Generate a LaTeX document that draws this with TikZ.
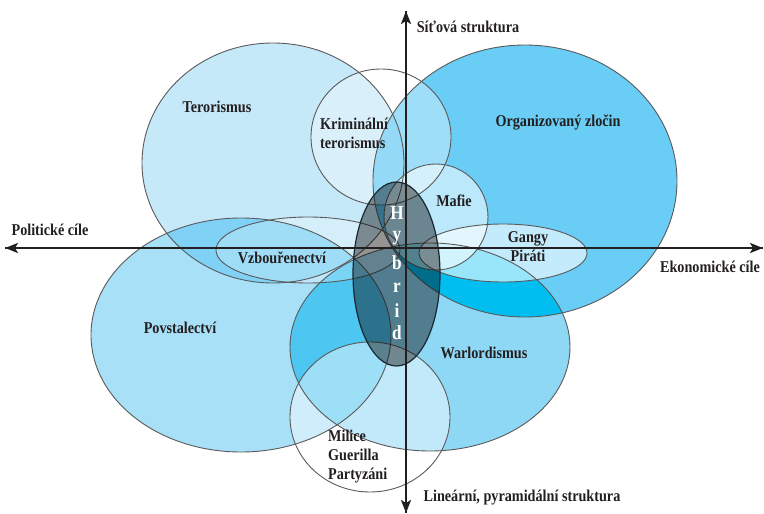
\documentclass[tikz,border=0pt]{standalone}
\usepackage{fontspec}
\setmainfont{Liberation Serif}[FakeStretch=0.86]
\usetikzlibrary{arrows.meta}
\definecolor{txt}{HTML}{231F20}
\definecolor{cT}{HTML}{C6E9F9}
\definecolor{cP}{HTML}{A8E0F8}
\definecolor{cO}{HTML}{6ACDF5}
\definecolor{cW}{HTML}{8FD8F5}
\definecolor{cTP}{HTML}{7FD2F5}
\definecolor{cPW}{HTML}{4EC6F2}
\definecolor{cOW}{HTML}{00BFF0}
\definecolor{cTO}{HTML}{5CC6F0}
\definecolor{edgec}{HTML}{5A5A5A}
\definecolor{hybc}{HTML}{1A2630}
\newcommand\ellT{(273,163) ellipse [x radius=131, y radius=120]}
\newcommand\ellK{(381,137) ellipse [x radius=70, y radius=68]}
\newcommand\ellO{(525,181) ellipse [x radius=152, y radius=136]}
\newcommand\ellMa{(436,217) ellipse [x radius=52, y radius=53]}
\newcommand\ellG{(503,253) ellipse [x radius=84, y radius=29]}
\newcommand\ellV{(308,250) ellipse [x radius=92, y radius=33]}
\newcommand\ellP{(241,335) ellipse [x radius=150, y radius=117]}
\newcommand\ellW{(430,347) ellipse [x radius=140, y radius=104]}
\newcommand\ellMi{(370,417) ellipse [x radius=80, y radius=75]}
\newcommand\ellH{(396.5,274) ellipse [x radius=43.5, y radius=92]}
\begin{document}
\begin{tikzpicture}[x=1pt,y=-1pt,
  outline/.style={draw=edgec, line width=0.9pt},
  veil/.style={fill=white, fill opacity=#1},
  lbl/.style={text=txt, inner sep=0pt, font=\fontsize{16.5}{19}\selectfont\bfseries},
  hyb/.style={text=white, inner sep=0pt, font=\fontsize{20}{24}\selectfont\bfseries},
  axis/.style={draw=txt, line width=2.2pt, -{Stealth[length=13pt,width=10pt,inset=3pt]}}]
\useasboundingbox (0,0) rectangle (764,514);
% coloured layers
\fill[cO] \ellO;
\fill[cT] \ellT;
\fill[cP] \ellP;
\fill[cW] \ellW;
\begin{scope}\clip \ellT; \fill[cTP] \ellP; \end{scope}
\begin{scope}\clip \ellT; \fill[cTO] \ellO; \end{scope}
\begin{scope}\clip \ellP; \fill[cPW] \ellW; \end{scope}
\begin{scope}\clip \ellO; \fill[cOW] \ellW; \end{scope}
% light overlays
\fill[veil=0.35] \ellK;
\fill[veil=0.55] \ellMa;
\fill[veil=0.6] \ellG;
\fill[veil=0.25] \ellV;
\fill[veil=0.45] \ellMi;
% outlines
\foreach \e in {\ellT,\ellK,\ellO,\ellMa,\ellG,\ellV,\ellP,\ellW,\ellMi}{\draw[outline] \e;}
% hybrid
\fill[black, fill opacity=0.42] \ellH;
\draw[hybc, line width=1.2pt] \ellH;
% axes
\coordinate (xl) at (5,248);
\coordinate (xr) at (763,248);
\coordinate (yt) at (406,11);
\coordinate (yb) at (406,513);
\draw[axis] (xr) -- (xl);
\draw[axis] (xl) -- (xr);
\draw[axis] (yb) -- (yt);
\draw[axis] (yt) -- (yb);
% labels
\node[lbl] (terr) at (217,107) {Terorismus};
\node[lbl, align=left, anchor=west] (krim) at (320,133) {Kriminální\\terorismus};
\node[lbl] (org) at (558,123) {Organizovaný zločin};
\node[lbl] (maf) at (454,201) {Mafie};
\node[lbl, align=center] (gang) at (528,247) {Gangy\\Piráti};
\node[lbl] (vzb) at (282,258) {Vzbouřenectví};
\node[lbl] (povst) at (180,328) {Povstalectví};
\node[lbl] (warl) at (484,353) {Warlordismus};
\node[lbl, align=left, anchor=west] (mil) at (328,457) {Milice\\Guerilla\\Partyzáni};
\node[lbl] (polit) at (50,230) {Politické cíle};
\node[lbl] (sit) at (468,27) {Síťová struktura};
\node[lbl] (ekon) at (710,267) {Ekonomické cíle};
\node[lbl] (lin) at (522,498) {Lineární, pyramidální struktura};
\node[hyb] (h1) at (397,213) {H};
\node[hyb] (h2) at (397,238) {y};
\node[hyb] (h3) at (397,263) {b};
\node[hyb] (h4) at (397,288) {r};
\node[hyb] (h5) at (397,311) {i};
\node[hyb] (h6) at (397,333) {d};
\end{tikzpicture}
\end{document}
